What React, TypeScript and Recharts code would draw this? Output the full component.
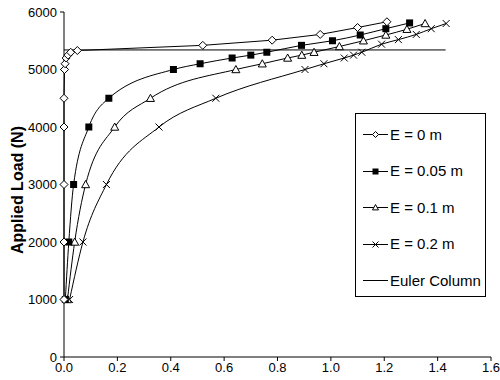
import React from 'react';
import { LineChart, Line, XAxis, YAxis, Legend, Label } from 'recharts';

// deflection (m) vs applied load (N)
const deflE0 = [0, 0, 0, 0, 0, 0.002, 0.004, 0.008, 0.015, 0.025, 0.05, 0.52, 0.78, 0.96, 1.1, 1.21];
const loadE0 = [1000, 2000, 3000, 4000, 4500, 5000, 5100, 5200, 5250, 5300, 5330, 5420, 5510, 5610, 5730, 5830];

const deflE005 = [0.005, 0.018, 0.036, 0.093, 0.168, 0.41, 0.51, 0.63, 0.7, 0.76, 0.89, 1.006, 1.11, 1.206, 1.295];
const loadE005 = [1000, 2000, 3000, 4000, 4500, 5000, 5100, 5200, 5250, 5300, 5420, 5500, 5600, 5710, 5810];

const deflE01 = [0.013, 0.04, 0.081, 0.19, 0.324, 0.644, 0.743, 0.838, 0.891, 0.937, 1.032, 1.122, 1.206, 1.285, 1.353];
const loadE01 = [1000, 2000, 3000, 4000, 4500, 5000, 5100, 5200, 5250, 5300, 5400, 5500, 5600, 5700, 5800];

const deflE02 = [0.021, 0.071, 0.159, 0.356, 0.569, 0.903, 0.974, 1.05, 1.085, 1.116, 1.19, 1.253, 1.32, 1.376, 1.432];
const loadE02 = [1000, 2000, 3000, 4000, 4500, 5000, 5100, 5200, 5250, 5300, 5440, 5520, 5610, 5710, 5800];

const deflEuler = [0, 1.43];
const loadEuler = [5340, 5340];

const xTicks = [0, 0.2, 0.4, 0.6, 0.8, 1.0, 1.2, 1.4, 1.6];
const yTicks = [0, 1000, 2000, 3000, 4000, 5000, 6000];
const legendNames = ['E = 0 m', 'E = 0.05 m', 'E = 0.1 m', 'E = 0.2 m', 'Euler Column'];

const zip = (d: number[], l: number[]) => d.map((x, i) => ({ defl: x, load: l[i] }));

const FONT = '"Liberation Sans", Arial, sans-serif';

const Diamond = ({ cx, cy, r = 4 }: any) => (
  <path d={`M${cx},${cy - r}L${cx + r},${cy}L${cx},${cy + r}L${cx - r},${cy}Z`} fill="#fff" stroke="#000" />
);
const Square = ({ cx, cy, r = 3.5 }: any) => (
  <rect x={cx - r} y={cy - r} width={r * 2} height={r * 2} fill="#000" />
);
const Triangle = ({ cx, cy, r = 4 }: any) => (
  <path d={`M${cx},${cy - r}L${cx + r},${cy + r * 0.8}L${cx - r},${cy + r * 0.8}Z`} fill="#fff" stroke="#000" />
);
const Cross = ({ cx, cy, r = 3.5 }: any) => (
  <path d={`M${cx - r},${cy - r}L${cx + r},${cy + r}M${cx + r},${cy - r}L${cx - r},${cy + r}`} stroke="#000" fill="none" />
);

const markers = [Diamond, Square, Triangle, Cross, null];

const renderLegend = () => (
  <div style={{ border: '1px solid #000', background: '#fff', width: 131, height: 184, boxSizing: 'border-box', position: 'relative', fontFamily: FONT }}>
    {legendNames.map((name, i) => {
      const M = markers[i];
      return (
        <div key={name} style={{ position: 'absolute', left: 7, top: 20 + i * 36.5 - 10, height: 20, display: 'flex', alignItems: 'center' }}>
          <svg width={25} height={20}>
            <line x1={0} x2={25} y1={10.5} y2={10.5} stroke="#000" />
            {M && <M cx={12.5} cy={10.5} r={3} />}
          </svg>
          <span style={{ marginLeft: 2, fontSize: 15, color: '#000', whiteSpace: 'nowrap' }}>{name}</span>
        </div>
      );
    })}
  </div>
);

const yLabel = () => (
  <text x={17} y={190} transform="rotate(-90 17 190)" textAnchor="middle" dominantBaseline="central" fontWeight="bold" fontSize={16} fill="#000">
    Applied Load (N)
  </text>
);

export default function App() {
  const tickStyle = { fill: '#000', fontSize: 13, fontFamily: FONT };
  return (
    <div style={{ position: 'absolute', left: 0, top: 0, background: '#fff', fontFamily: FONT }}>
      <LineChart width={500} height={380} margin={{ top: 12, right: 9, bottom: 0, left: 0 }}>
        <XAxis
          dataKey="defl"
          type="number"
          domain={[0, 1.6]}
          ticks={xTicks}
          interval={0}
          tickFormatter={(v: number) => v.toFixed(1)}
          height={23}
          tickSize={4}
          tickMargin={2}
          tick={tickStyle}
          axisLine={{ stroke: '#000' }}
          tickLine={{ stroke: '#000' }}
        />
        <YAxis
          type="number"
          domain={[0, 6000]}
          ticks={yTicks}
          interval={0}
          width={64}
          tickSize={4}
          tickMargin={3}
          tick={tickStyle}
          axisLine={{ stroke: '#000' }}
          tickLine={{ stroke: '#000' }}
        >
          <Label content={yLabel} />
        </YAxis>
        <Legend layout="vertical" align="center" verticalAlign="middle" content={renderLegend} wrapperStyle={{ left: 355, top: 113, width: 131, height: 184 }} />
        <Line data={zip(deflEuler, loadEuler)} dataKey="load" type="linear" stroke="#000" strokeWidth={1} dot={false} isAnimationActive={false} name="Euler Column" />
        <Line data={zip(deflE02, loadE02)} dataKey="load" type="monotone" stroke="#000" strokeWidth={1} isAnimationActive={false} name="E = 0.2 m"
          dot={(p: any) => <Cross key={`e02-${p.index}`} cx={p.cx} cy={p.cy} />} />
        <Line data={zip(deflE01, loadE01)} dataKey="load" type="monotone" stroke="#000" strokeWidth={1} isAnimationActive={false} name="E = 0.1 m"
          dot={(p: any) => <Triangle key={`e01-${p.index}`} cx={p.cx} cy={p.cy} />} />
        <Line data={zip(deflE005, loadE005)} dataKey="load" type="monotone" stroke="#000" strokeWidth={1} isAnimationActive={false} name="E = 0.05 m"
          dot={(p: any) => <Square key={`e005-${p.index}`} cx={p.cx} cy={p.cy} />} />
        <Line data={zip(deflE0, loadE0)} dataKey="load" type="linear" stroke="#000" strokeWidth={1} isAnimationActive={false} name="E = 0 m"
          dot={(p: any) => <Diamond key={`e0-${p.index}`} cx={p.cx} cy={p.cy} />} />
      </LineChart>
    </div>
  );
}
